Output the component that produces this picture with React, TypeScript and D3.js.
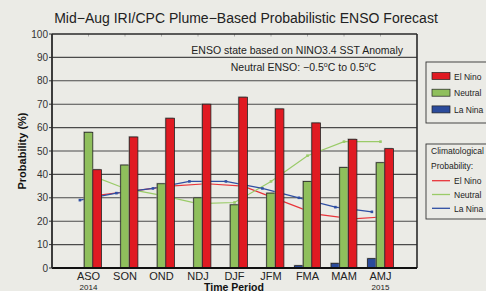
import React from "react";
import * as d3 from "d3";

const categories = ["ASO", "SON", "OND", "NDJ", "DJF", "JFM", "FMA", "MAM", "AMJ"];
const yearLabels = ["2014", "", "", "", "", "", "", "", "2015"];
const elNino = [42, 56, 64, 70, 73, 68, 62, 55, 51];
const neutral = [58, 44, 36, 30, 27, 32, 37, 43, 45];
const laNina = [0, 0, 0, 0, 0, 0, 1, 2, 4];
const climElNino = [31, 33, 35, 36, 35, 29, 23, 21, 22];
const climNeutral = [40, 34, 31, 27.5, 28, 37, 48, 54, 54];
const climLaNina = [29, 32, 34, 37, 37, 34, 30, 26, 24];
const yTicks = [0, 10, 20, 30, 40, 50, 60, 70, 80, 90, 100];

const W = 486, H = 291;
const L = 52, R = 417, T = 34, B = 268;
const FONT = "'Liberation Sans', Arial, Helvetica, sans-serif";
const C_RED = "#e01a22", C_GREEN = "#8fbf5c", C_BLUE = "#2b4b9b";
const L_RED = "#e8343a", L_GREEN = "#9acb68", L_BLUE = "#2f4fa3";
const BG = "#ebebe6";

export default function App() {
  const x = d3.scaleLinear().domain([0, 10]).range([L, R]);
  const y = d3.scaleLinear().domain([0, 100]).range([B, T]);
  const bw = 8.6;
  const cx = (i: number) => x(i + 1);

  const series = [
    { vals: laNina, off: -1, color: C_BLUE },
    { vals: neutral, off: 0, color: C_GREEN },
    { vals: elNino, off: 1, color: C_RED },
  ];
  const lines = [
    { vals: climElNino, off: 1, color: L_RED },
    { vals: climNeutral, off: 0, color: L_GREEN },
    { vals: climLaNina, off: -1, color: L_BLUE },
  ];
  const lineGen = (off: number) =>
    d3.line<number>().x((_, i) => cx(i) + off * bw).y((v) => y(v)).curve(d3.curveLinear);

  return (
    <svg width={W} height={H} style={{ position: "absolute", left: 0, top: 0, background: BG }} fontFamily={FONT}>
      <rect x={0} y={0} width={W} height={H} fill={BG} />
      <text x={246} y={23} textAnchor="middle" fontSize={14} fill="#222">
        Mid−Aug IRI/CPC Plume−Based Probabilistic ENSO Forecast
      </text>
      {/* gridlines */}
      {yTicks.filter((t) => t > 0 && t < 100).map((t) => (
        <line key={t} x1={L} x2={R} y1={y(t)} y2={y(t)} stroke="#4a4a4a" strokeWidth={1.1} />
      ))}
      {/* y ticks and labels */}
      {yTicks.map((t) => (
        <g key={"yt" + t}>
          <line x1={L - 3} x2={L} y1={y(t)} y2={y(t)} stroke="#333" strokeWidth={1} />
          <text x={48} y={y(t) + 3.5} textAnchor="end" fontSize={10} fill="#333">{t}</text>
        </g>
      ))}
      {/* top category ticks */}
      {categories.map((c, i) => (
        <line key={"tt" + c} x1={cx(i)} x2={cx(i)} y1={T} y2={T + 2.5} stroke="#999" strokeWidth={0.8} />
      ))}
      {/* annotations */}
      <text x={403} y={54} textAnchor="end" fontSize={10.5} fill="#222">ENSO state based on NINO3.4 SST Anomaly</text>
      <text x={376} y={71} textAnchor="end" fontSize={10.5} fill="#222">
        Neutral ENSO: −0.5<tspan dy={-4} fontSize={7}>o</tspan><tspan dy={4}>C to 0.5</tspan><tspan dy={-4} fontSize={7}>o</tspan><tspan dy={4}>C</tspan>
      </text>
      {/* climatology lines (behind bars) */}
      {lines.map((s, k) => (
        <g key={"ln" + k}>
          <path d={lineGen(s.off)(s.vals) || ""} fill="none" stroke={s.color} strokeWidth={1.2} />
          {s.vals.map((v, i) => (
            <rect key={i} x={cx(i) + s.off * bw - 1.3} y={y(v) - 1.3} width={2.6} height={2.6} fill={s.color} />
          ))}
        </g>
      ))}
      {/* bars */}
      {series.map((s, k) => (
        <g key={"bar" + k}>
          {s.vals.map((v, i) =>
            v > 0 ? (
              <g key={i}>
                <rect x={cx(i) + s.off * bw - bw / 2 - 1} y={y(v) - 1} width={bw} height={B - y(v)} fill="#a3a39e" opacity={0.6} />
                <rect x={cx(i) + s.off * bw - bw / 2} y={y(v)} width={bw} height={B - y(v)} fill={s.color} stroke="#222" strokeWidth={0.8} />
              </g>
            ) : null
          )}
        </g>
      ))}
      {/* frame */}
      <line x1={L} x2={R} y1={T} y2={T} stroke="#2a2a2a" strokeWidth={1.6} />
      <line x1={R} x2={R} y1={T} y2={B} stroke="#2a2a2a" strokeWidth={1.6} />
      <line x1={L} x2={R} y1={B} y2={B} stroke="#111" strokeWidth={1.8} />
      <line x1={L} x2={L} y1={T} y2={B} stroke="#2a2a2a" strokeWidth={1.8} />
      {/* x labels */}
      {categories.map((c, i) => (
        <g key={"xl" + c}>
          <text x={cx(i)} y={280} textAnchor="middle" fontSize={11} fill="#222">{c}</text>
          {yearLabels[i] ? (
            <text x={cx(i)} y={289.5} textAnchor="middle" fontSize={8} fill="#222">{yearLabels[i]}</text>
          ) : null}
        </g>
      ))}
      <text x={234} y={290.5} textAnchor="middle" fontSize={10.5} fontWeight="bold" fill="#111">Time Period</text>
      <text transform={`translate(26,${(T + B) / 2}) rotate(-90)`} textAnchor="middle" fontSize={11} fontWeight="bold" fill="#111">
        Probability (%)
      </text>
      {/* legend 1 */}
      <rect x={426} y={62} width={70} height={61} fill="none" stroke="#333" strokeWidth={0.9} />
      {[{ c: C_RED, t: "El Nino" }, { c: C_GREEN, t: "Neutral" }, { c: C_BLUE, t: "La Nina" }].map((e, k) => (
        <g key={"lg" + k}>
          <rect x={432} y={72.5 + k * 16.7} width={18} height={7} fill={e.c} stroke="#222" strokeWidth={0.7} />
          <text x={454} y={79.5 + k * 16.7} fontSize={8.5} fill="#222">{e.t}</text>
        </g>
      ))}
      {/* legend 2 */}
      <rect x={426} y={144} width={70} height={75} fill="none" stroke="#333" strokeWidth={0.9} />
      <text x={431} y={154} fontSize={8.5} fill="#222">Climatological</text>
      <text x={431} y={169} fontSize={8.5} fill="#222">Probability:</text>
      {[{ c: L_RED, t: "El Nino" }, { c: L_GREEN, t: "Neutral" }, { c: L_BLUE, t: "La Nina" }].map((e, k) => (
        <g key={"lg2" + k}>
          <line x1={432} x2={450} y1={180.7 + k * 13.8} y2={180.7 + k * 13.8} stroke={e.c} strokeWidth={1.3} />
          <text x={454} y={184 + k * 13.8} fontSize={8.5} fill="#222">{e.t}</text>
        </g>
      ))}
    </svg>
  );
}
